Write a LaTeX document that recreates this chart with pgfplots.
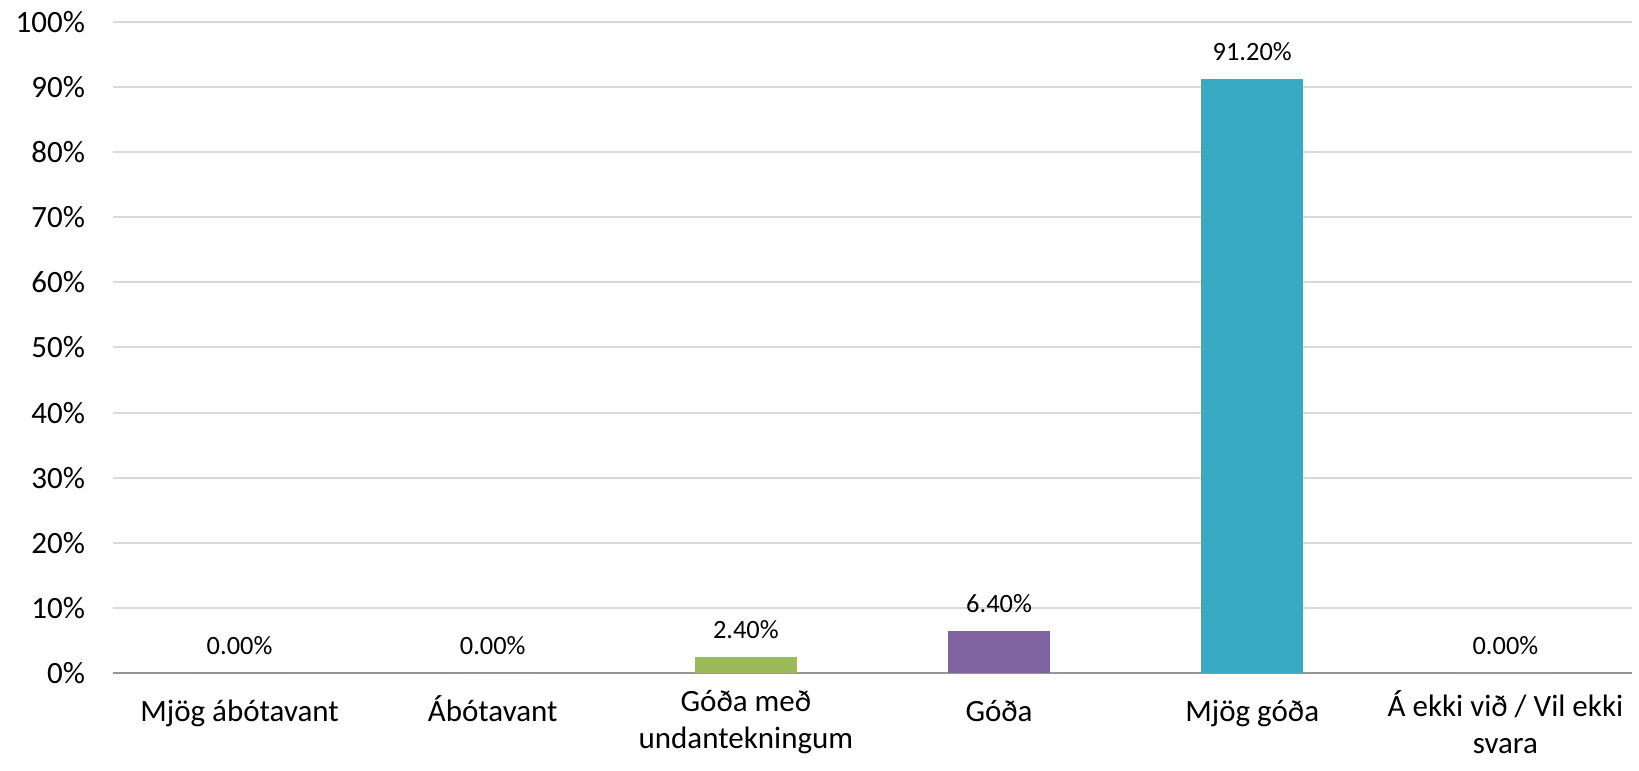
\documentclass[border=0pt]{standalone}
\usepackage{pgfplots}
\pgfplotsset{compat=1.18}
\usepackage{fontspec}
\setmainfont{Carlito}
\definecolor{gridc}{RGB}{217,217,217}
\definecolor{axc}{RGB}{150,150,150}
\definecolor{c1}{RGB}{79,129,189}
\definecolor{c2}{RGB}{192,80,77}
\definecolor{c3}{RGB}{155,187,89}
\definecolor{c4}{RGB}{128,100,162}
\definecolor{c5}{RGB}{56,170,196}
\definecolor{c6}{RGB}{247,150,70}
\begin{document}
\begin{tikzpicture}
\path[use as bounding box] (-56.5pt,-49pt) rectangle (763pt,336.5pt);
\begin{axis}[
  at={(0pt,0pt)}, anchor=south west,
  scale only axis,
  width=759.5pt, height=325.5pt,
  xmin=-0.5, xmax=5.5,
  ymin=0, ymax=100,
  ytick={0,10,...,100},
  yticklabel={\pgfmathprintnumber{\tick}\%},
  /pgf/number format/assume math mode=true,
  xtick={0,1,2,3,4,5},
  xticklabels={Mjög ábótavant, Ábótavant, {Góða með\\undantekningum}, Góða, Mjög góða, {Á ekki við / Vil ekki\\svara}},
  xticklabel style={anchor=north, align=center, font=\fontsize{15.5}{18.3}\selectfont, execute at begin node={\rule{0pt}{1em}}, yshift=-5.3pt},
  yticklabel style={font=\fontsize{15.5}{18}\selectfont, xshift=-10.5pt},
  major tick length=0pt,
  ymajorgrids, grid style={gridc, line width=1pt},
  separate axis lines,
  x axis line style={axc, line width=1pt},
  y axis line style={draw=none},
  axis x line*=bottom,
  axis y line*=left,
  ybar, bar width=51pt, bar shift=0pt,
  nodes near coords={\pgfmathprintnumber[fixed,fixed zerofill,precision=2]{\pgfplotspointmeta}\%},
  nodes near coords style={font=\fontsize{13.2}{15}\selectfont, /pgf/number format/assume math mode=true, yshift=5.7pt},
  clip=false,
]
\addplot[fill=c1, draw=none] coordinates {(0,0)};
\addplot[fill=c2, draw=none] coordinates {(1,0)};
\addplot[fill=c3, draw=none] coordinates {(2,2.4)};
\addplot[fill=c4, draw=none] coordinates {(3,6.4)};
\addplot[fill=c5, draw=none] coordinates {(4,91.2)};
\addplot[fill=c6, draw=none] coordinates {(5,0)};
\end{axis}
\end{tikzpicture}
\end{document}
